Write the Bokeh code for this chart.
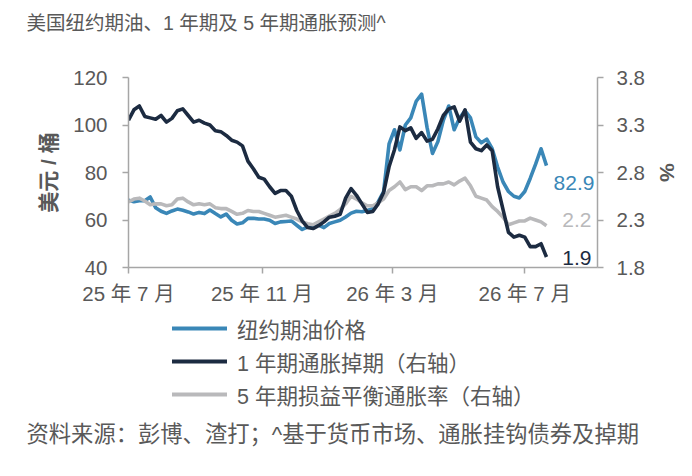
import pandas as pd
from bokeh.plotting import figure
from bokeh.layouts import column
from bokeh.models import (ColumnDataSource, LinearAxis, Range1d, FixedTicker, Label,
                          Legend, LegendItem)
from bokeh.embed import file_html
from bokeh.resources import INLINE

# ---------------- data (5-day sampling) ----------------
START = "2025-07-01"
STEP = "5D"

oil = [68.3, 67.7, 68.1, 68.1, 69.7, 65.2, 63.7, 62.8, 63.8, 64.6,
       64.1, 63.4, 62.5, 63.2, 62.7, 64.2, 62.7, 61.3, 62.5, 59.9,
       58.3, 58.8, 60.7, 60.7, 60.4, 60.4, 59.9, 58.5, 59.2, 59.4,
       59.6, 57.8, 56.0, 57.1, 57.8, 57.8, 56.8, 58.5, 59.2, 59.9,
       61.3, 62.9, 63.7, 63.5, 64.0, 64.8, 67.6, 72.0, 92.0, 98.0,
       89.5, 100.0, 103.0, 110.0, 113.0, 99.0, 88.0, 93.0, 102.0, 108.0,
       98.0, 103.0, 106.0, 103.0, 95.0, 92.5, 94.0, 90.0, 82.3, 76.0,
       72.0, 70.0, 69.3, 72.0, 77.5, 83.5, 90.0, 82.9]

swap_1y = [3.35, 3.46, 3.50, 3.39, 3.375, 3.36, 3.40, 3.33, 3.37, 3.45,
           3.47, 3.40, 3.33, 3.35, 3.32, 3.30, 3.24, 3.23, 3.19, 3.14,
           3.12, 3.08, 2.92, 2.84, 2.75, 2.73, 2.65, 2.58, 2.61, 2.61,
           2.55, 2.40, 2.29, 2.22, 2.21, 2.24, 2.28, 2.33, 2.34, 2.36,
           2.53, 2.63, 2.56, 2.47, 2.38, 2.39, 2.47, 2.59, 2.86, 3.04,
           3.28, 3.24, 3.27, 3.16, 3.22, 3.13, 3.15, 3.26, 3.40, 3.47,
           3.49, 3.34, 3.46, 3.12, 3.05, 3.03, 3.09, 3.03, 2.65, 2.41,
           2.17, 2.12, 2.14, 2.12, 2.02, 2.02, 2.05, 1.91]

breakeven_5y = [2.49, 2.52, 2.53, 2.50, 2.46, 2.47, 2.47, 2.45, 2.46, 2.52,
                2.53, 2.49, 2.46, 2.47, 2.46, 2.47, 2.43, 2.42, 2.42, 2.39,
                2.36, 2.37, 2.40, 2.39, 2.39, 2.37, 2.35, 2.33, 2.34, 2.35,
                2.33, 2.31, 2.28, 2.26, 2.25, 2.28, 2.31, 2.34, 2.37, 2.41,
                2.47, 2.55, 2.52, 2.48, 2.45, 2.45, 2.48, 2.52, 2.61, 2.65,
                2.70, 2.62, 2.65, 2.65, 2.61, 2.66, 2.66, 2.68, 2.68, 2.70,
                2.67, 2.71, 2.74, 2.66, 2.55, 2.53, 2.51, 2.44, 2.39, 2.33,
                2.25, 2.27, 2.29, 2.29, 2.32, 2.30, 2.28, 2.24]

x_tick_dates = ["2025-07-01", "2025-11-01", "2026-03-01", "2026-07-01"]
x_tick_labels = ["25 年 7 月", "25 年 11 月", "26 年 3 月", "26 年 7 月"]
left_ticks = [40, 60, 80, 100, 120]
right_ticks = [1.8, 2.3, 2.8, 3.3, 3.8]
series_names = ["纽约期油价格", "1 年期通胀掉期（右轴）", "5 年期损益平衡通胀率（右轴）"]
end_labels = ["82.9", "2.2", "1.9"]
title_text = "美国纽约期油、1 年期及 5 年期通胀预测^"
source_text = "资料来源：彭博、渣打；^基于货币市场、通胀挂钩债券及掉期"
left_label = "美元 / 桶"
right_label = "%"

# ---------------- styling ----------------
FONT = "Liberation Sans, Noto Sans CJK SC"
TXT = "#595959"
AX = "#A6A6A6"
C_OIL = "#3A87B7"
C_SWAP = "#1C2B41"
C_BE = "#B9B9BB"
LW = 3.6
W = 692
H_HEAD, H_MAIN, H_FOOT = 50, 262, 164


def ms(d):
    return pd.Timestamp(d).value / 1e6


def no_align(f):
    if "frame_align" in f.properties():
        f.frame_align = False


def blank(height):
    f = figure(width=W, height=height, x_range=Range1d(0, W), y_range=Range1d(0, height),
               x_axis_location=None, y_axis_location=None, min_border=0,
               output_backend="svg", toolbar_location=None)
    f.outline_line_color = None
    f.grid.visible = False
    f.background_fill_color = "white"
    f.border_fill_color = "white"
    no_align(f)
    return f


dates = pd.date_range(START, periods=len(oil), freq=STEP)
src = ColumnDataSource(dict(date=dates, oil=oil, swap=swap_1y, be=breakeven_5y))

# ---------------- header (title) ----------------
head = blank(H_HEAD)
head.add_layout(Label(x=26, y=28, text=title_text, text_align="left", text_baseline="middle",
                      text_font=FONT, text_font_size="19.5px", text_color=TXT))

# ---------------- main chart ----------------
p = figure(width=W, height=H_MAIN, x_axis_type="datetime",
           x_range=Range1d(ms("2025-07-01"), ms("2026-09-06")),
           y_range=Range1d(40, 120),
           output_backend="svg", toolbar_location=None,
           min_border_left=128, min_border_right=95,
           min_border_top=27, min_border_bottom=H_MAIN - 27 - 190)
no_align(p)
p.extra_y_ranges = {"right": Range1d(1.8, 3.8)}
p.outline_line_color = None
p.xgrid.visible = False
p.ygrid.visible = False
p.background_fill_color = "white"
p.border_fill_color = "white"

p.line("date", "oil", source=src, color=C_OIL, line_width=LW, line_join="round")
p.line("date", "be", source=src, color=C_BE, line_width=LW, line_join="round",
       y_range_name="right")
p.line("date", "swap", source=src, color=C_SWAP, line_width=LW, line_join="round",
       y_range_name="right")

raxis = LinearAxis(y_range_name="right")
p.add_layout(raxis, "right")


def style_axis(ax):
    ax.axis_line_color = AX
    ax.axis_line_width = 1.5
    ax.major_tick_line_color = AX
    ax.major_tick_line_width = 1.5
    ax.major_tick_out = 6
    ax.major_tick_in = 0
    ax.minor_tick_line_color = None
    ax.major_label_text_font = FONT
    ax.major_label_text_font_size = "20.5px"
    ax.major_label_text_color = TXT
    ax.axis_label_text_font = FONT
    ax.axis_label_text_font_size = "21px"
    ax.axis_label_text_color = TXT
    ax.axis_label_text_font_style = "bold"


xaxis = p.xaxis[0]
style_axis(xaxis)
xt = [ms(d) for d in x_tick_dates]
xaxis.ticker = FixedTicker(ticks=xt, minor_ticks=[])
xaxis.major_label_overrides = {t: lab for t, lab in zip(xt, x_tick_labels)}
xaxis.major_label_standoff = 8

laxis = p.yaxis[0]
style_axis(laxis)
laxis.ticker = FixedTicker(ticks=left_ticks, minor_ticks=[])
laxis.major_label_standoff = 15
laxis.axis_label = left_label
laxis.axis_label_standoff = 10

style_axis(raxis)
raxis.ticker = FixedTicker(ticks=right_ticks, minor_ticks=[])
raxis.major_label_overrides = {t: f"{t:.1f}" for t in right_ticks}
raxis.major_label_standoff = 13
raxis.axis_label = right_label
raxis.axis_label_standoff = 8

last = ms(dates[-1])
p.add_layout(Label(x=last, y=75.4, x_offset=48, text=end_labels[0], text_align="right",
                   text_baseline="middle", text_font=FONT, text_font_size="21px",
                   text_color=C_OIL))
p.add_layout(Label(x=last, y=2.298, x_offset=45, text=end_labels[1], text_align="right",
                   text_baseline="middle", text_font=FONT, text_font_size="21px",
                   text_color=C_BE, y_range_name="right"))
p.add_layout(Label(x=last, y=1.898, x_offset=45, text=end_labels[2], text_align="right",
                   text_baseline="middle", text_font=FONT, text_font_size="21px",
                   text_color=C_SWAP, y_range_name="right"))

# ---------------- footer (legend + source) ----------------
foot = blank(H_FOOT)
colors = [C_OIL, C_SWAP, C_BE]
cols = ["oil", "swap", "be"]
items = []
for name, c, col in zip(series_names, colors, cols):
    # hidden copy of each series: only used to draw its legend sample
    r = foot.line("date", col, source=src, color=c, line_width=4, line_cap="round",
                  visible=False)
    items.append(LegendItem(label=name, renderers=[r]))
legend = Legend(items=items, location=(172, 66.5), orientation="vertical",
                glyph_width=55, glyph_height=20, label_height=20, label_standoff=10,
                spacing=2, padding=0, margin=0, border_line_color=None,
                background_fill_alpha=0, inactive_fill_alpha=0,
                label_text_font=FONT,
                label_text_font_size="21.5px", label_text_color=TXT)
foot.add_layout(legend, "center")
foot.add_layout(Label(x=26, y=42, text=source_text, text_align="left", text_baseline="middle",
                      text_font=FONT, text_font_size="22.3px", text_color=TXT))

layout = column(head, p, foot, spacing=0)
open("out.html", "w").write(file_html(layout, INLINE))
